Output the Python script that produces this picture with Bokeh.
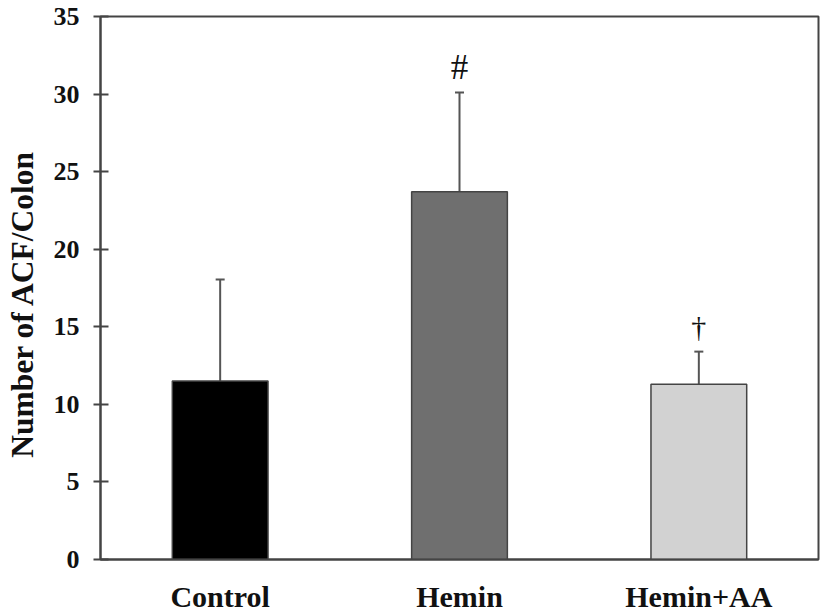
from bokeh.plotting import figure
from bokeh.models import ColumnDataSource, FactorRange, Range1d, Whisker, TeeHead, FixedTicker
from bokeh.core.properties import value
from bokeh.embed import file_html
from bokeh.resources import INLINE

groups = ["Control", "Hemin", "Hemin+AA"]
means = [11.5, 23.7, 11.3]
upper_err = [18.05, 30.1, 13.4]
marks = ["", "#", "\u2020"]
mark_offset = [1.6, 1.6, 1.6]
mark_sizes = ["30px", "35px", "30px"]
fills = ["#000000", "#6f6f6f", "#d2d2d2"]
y_ticks = [0, 5, 10, 15, 20, 25, 30, 35]
y_title = "Number of ACF/Colon"

src = ColumnDataSource(dict(
    g=groups, m=means, up=upper_err, base=[0] * 3, fill=fills,
    mark=marks, msize=mark_sizes, my=[u + o for u, o in zip(upper_err, mark_offset)],
))

p = figure(width=827, height=615, x_range=FactorRange(*groups, range_padding=0),
           y_range=Range1d(0, 35), output_backend="svg", toolbar_location=None,
           min_border_left=100, min_border_right=9, min_border_top=16, min_border_bottom=54)
p.background_fill_color = "white"
p.border_fill_color = "white"
p.grid.visible = False
p.outline_line_color = "#444444"
p.outline_line_width = 2

serif = "Liberation Serif"

p.vbar(x="g", top="m", width=0.4, source=src, fill_color="fill",
       line_color="#444444", line_width=1.5)

w = Whisker(base="g", lower="m", upper="up", source=src, line_color="#555555", line_width=2,
            upper_head=TeeHead(size=9, line_color="#555555", line_width=2), lower_head=None)
p.add_layout(w)

p.text(x="g", y="my", text="mark", source=src, text_align="center", text_baseline="middle",
       text_font=value(serif), text_font_size="msize", text_color="#111111")

ya = p.yaxis[0]
ya.ticker = FixedTicker(ticks=y_ticks)
ya.axis_label = y_title + "\u00a0" * 4
ya.axis_label_text_font = serif
ya.axis_label_text_font_style = "bold"
ya.axis_label_text_font_size = "31.5px"
ya.axis_label_text_color = "#111111"
ya.axis_label_standoff = 11
ya.major_label_text_font = serif
ya.major_label_text_font_style = "bold"
ya.major_label_text_font_size = "26px"
ya.major_label_text_color = "#111111"
ya.major_label_standoff = 14
ya.major_tick_out = 7
ya.major_tick_in = 8
ya.minor_tick_line_color = None
ya.axis_line_color = "#444444"
ya.axis_line_width = 2
ya.major_tick_line_color = "#444444"
ya.major_tick_line_width = 2

xa = p.xaxis[0]
xa.major_tick_line_color = None
xa.minor_tick_line_color = None
xa.major_tick_out = 0
xa.major_tick_in = 0
xa.axis_line_color = "#444444"
xa.axis_line_width = 2
xa.major_label_text_font = serif
xa.major_label_text_font_style = "bold"
xa.major_label_text_font_size = "30px"
xa.major_label_text_color = "#111111"
xa.major_label_standoff = 20

open("out.html", "w").write(file_html(p, INLINE))
